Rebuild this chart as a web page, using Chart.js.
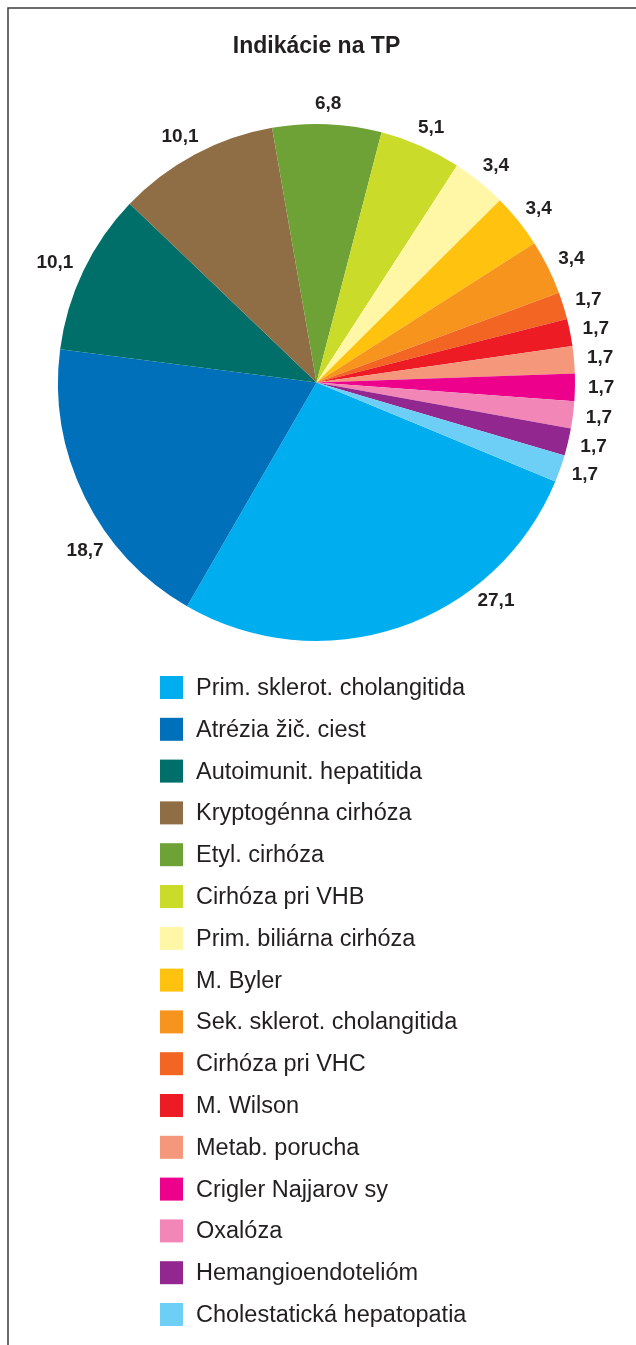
<!DOCTYPE html>
<html>
<head>
<meta charset="utf-8">
<script src="https://cdn.jsdelivr.net/npm/chart.js@4/dist/chart.umd.min.js"></script>
<style>
  html, body { margin: 0; padding: 0; background: #fff; }
  #wrap { position: relative; width: 636px; height: 1345px; }
</style>
</head>
<body>
<div id="wrap"><canvas id="c"></canvas></div>
<script>
const titleText = 'Indikácie na TP';

const categories = [
  'Prim. sklerot. cholangitida',
  'Atrézia žič. ciest',
  'Autoimunit. hepatitida',
  'Kryptogénna cirhóza',
  'Etyl. cirhóza',
  'Cirhóza pri VHB',
  'Prim. biliárna cirhóza',
  'M. Byler',
  'Sek. sklerot. cholangitida',
  'Cirhóza pri VHC',
  'M. Wilson',
  'Metab. porucha',
  'Crigler Najjarov sy',
  'Oxalóza',
  'Hemangioendotelióm',
  'Cholestatická hepatopatia'
];

const values = [27.1, 18.7, 10.1, 10.1, 6.8, 5.1, 3.4, 3.4, 3.4, 1.7, 1.7, 1.7, 1.7, 1.7, 1.7, 1.7];

const colors = [
  '#00aeef', '#0070bb', '#006f6a', '#8f6e46', '#6ea136', '#cbdb2a',
  '#fff6a6', '#ffc20e', '#f7941d', '#f26522', '#ed1c24', '#f4977a',
  '#ec008c', '#f287b7', '#92278f', '#6dcff6'
];

const textColor = '#231f20';

// where the value label sits inside its slice (0..1 of the sweep), default middle
const labelSpot = { 0: 0.3, 1: 0.34 };

const framePlugin = {
  id: 'frame',
  beforeDraw(chart) {
    const ctx = chart.ctx;
    ctx.save();
    ctx.fillStyle = '#fff';
    ctx.fillRect(0, 0, chart.width, chart.height);
    ctx.strokeStyle = '#3c3c3c';
    ctx.lineWidth = 1.5;
    ctx.beginPath();
    ctx.moveTo(chart.width, 8);
    ctx.lineTo(8, 8);
    ctx.lineTo(8, chart.height);
    ctx.stroke();
    ctx.restore();
  }
};

const valueLabels = {
  id: 'valueLabels',
  afterDatasetsDraw(chart) {
    const ctx = chart.ctx;
    const meta = chart.getDatasetMeta(0);
    ctx.save();
    ctx.font = 'bold 19px "Liberation Sans", Arial, sans-serif';
    ctx.fillStyle = textColor;
    ctx.textAlign = 'center';
    ctx.textBaseline = 'middle';
    meta.data.forEach((arc, i) => {
      const p = arc.getProps(['x', 'y', 'startAngle', 'endAngle', 'outerRadius'], true);
      const f = labelSpot[i] !== undefined ? labelSpot[i] : 0.5;
      const a = p.startAngle + (p.endAngle - p.startAngle) * f;
      const txt = String(values[i]).replace('.', ',');
      const w = ctx.measureText(txt).width;
      const r = p.outerRadius + 13;
      const cx = p.x + Math.cos(a) * (r + w / 2);
      const cy = p.y + Math.sin(a) * (r + 7);
      ctx.fillText(txt, cx, cy);
    });
    ctx.restore();
  }
};

const listLegend = {
  id: 'listLegend',
  afterDraw(chart) {
    const ctx = chart.ctx;
    const left = 160, top = 676, step = 41.8, box = 23;
    ctx.save();
    ctx.font = '23.5px "Liberation Sans", Arial, sans-serif';
    ctx.textAlign = 'left';
    ctx.textBaseline = 'middle';
    categories.forEach((name, i) => {
      const y = top + i * step;
      ctx.fillStyle = colors[i];
      ctx.fillRect(left, y, box, box);
      ctx.fillStyle = textColor;
      ctx.fillText(name, left + 36, y + box / 2 + 1);
    });
    ctx.restore();
  }
};

new Chart(document.getElementById('c'), {
  type: 'pie',
  data: {
    labels: categories,
    datasets: [{
      data: values,
      backgroundColor: colors,
      borderWidth: 0,
      hoverOffset: 0
    }]
  },
  options: {
    responsive: true,
    maintainAspectRatio: false,
    animation: false,
    events: [],
    rotation: 112.5,
    layout: {
      padding: { top: 0, left: 58, right: 61, bottom: 704 }
    },
    plugins: {
      legend: { display: false },
      tooltip: { enabled: false },
      title: {
        display: true,
        text: titleText,
        color: textColor,
        font: { family: '"Liberation Sans", Arial, sans-serif', size: 23, weight: 'bold', lineHeight: 1.2 },
        padding: { top: 33, bottom: 63.4 }
      }
    }
  },
  plugins: [framePlugin, valueLabels, listLegend]
});
</script>
</body>
</html>
